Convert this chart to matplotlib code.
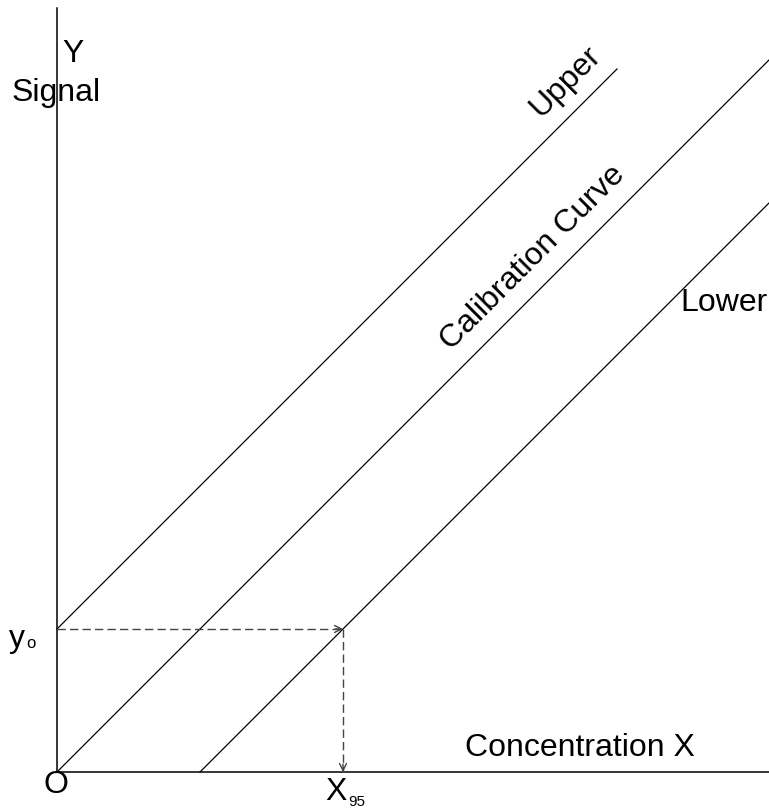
import matplotlib
matplotlib.use("Agg")
import matplotlib.pyplot as plt
import numpy as np

plt.rcParams['font.family'] = ['Liberation Sans', 'DejaVu Sans']

# Data (pixel-like units, origin at O)
calib_x = [0, 712]
calib_y = [0, 712]
upper_x = [0, 560]
upper_y = [143, 703]
lower_x = [143, 712]
lower_y = [0, 569]
y0 = 143
x95 = 286
x_max = 712
y_max = 764

fig = plt.figure(figsize=(7.69, 8.10), dpi=100)
W, H = 769, 810
ax = fig.add_axes([57 / W, 38 / H, (W - 57) / W, 764 / H])
ax.set_xlim(0, x_max)
ax.set_ylim(0, y_max)
ax.axis('off')

# axes
ax.plot([0, x_max], [0, 0], color='black', lw=1.1, clip_on=False)
ax.plot([0, 0], [0, y_max], color='black', lw=1.1, clip_on=False)

# lines
for xs, ys in [(calib_x, calib_y), (upper_x, upper_y), (lower_x, lower_y)]:
    ax.plot(xs, ys, color='black', lw=0.9, clip_on=False)

# dashed guides
dash_col = '#444444'
ax.plot([0, x95], [y0, y0], color=dash_col, lw=1.0, ls=(0, (6, 3)))
ax.plot([x95, x95], [y0, 0], color=dash_col, lw=1.0, ls=(0, (6, 3)))
ax.annotate('', xy=(x95, y0), xytext=(x95 - 8, y0),
            arrowprops=dict(arrowstyle='->,head_length=0.5,head_width=0.25', color=dash_col, lw=1.0,
                            shrinkA=0, shrinkB=0))
ax.annotate('', xy=(x95, 0), xytext=(x95, 8),
            arrowprops=dict(arrowstyle='->,head_length=0.5,head_width=0.25', color=dash_col, lw=1.0,
                            shrinkA=0, shrinkB=0))

fs = 23
def px(x, y):
    return (x - 57, 772 - y)

ax.text(*px(73, 54), 'Y', fontsize=fs, ha='center', va='center', clip_on=False)
ax.text(*px(56, 93), 'Signal', fontsize=fs, ha='center', va='center', clip_on=False)
ax.text(*px(17, 639), 'y', fontsize=fs, ha='center', va='center', clip_on=False)
ax.text(*px(31, 643), 'o', fontsize=12, ha='center', va='center', clip_on=False)
ax.text(*px(56, 785), 'O', fontsize=fs, ha='center', va='center', clip_on=False)
ax.text(*px(336, 792), 'X', fontsize=fs, ha='center', va='center', clip_on=False)
ax.text(*px(357, 802), '95', fontsize=11, ha='center', va='center', clip_on=False)
ax.text(*px(580, 748), 'Concentration X', fontsize=fs, ha='center', va='center', clip_on=False)
ax.text(*px(724, 303), 'Lower', fontsize=fs, ha='center', va='center', clip_on=False)
ax.text(*px(566, 82), 'Upper', fontsize=fs, ha='center', va='center', rotation=45,
        rotation_mode='anchor', clip_on=False)
ax.text(*px(533, 258), 'Calibration Curve', fontsize=fs, ha='center', va='center', rotation=45,
        rotation_mode='anchor', clip_on=False)

fig.savefig('out.png', dpi=100)
